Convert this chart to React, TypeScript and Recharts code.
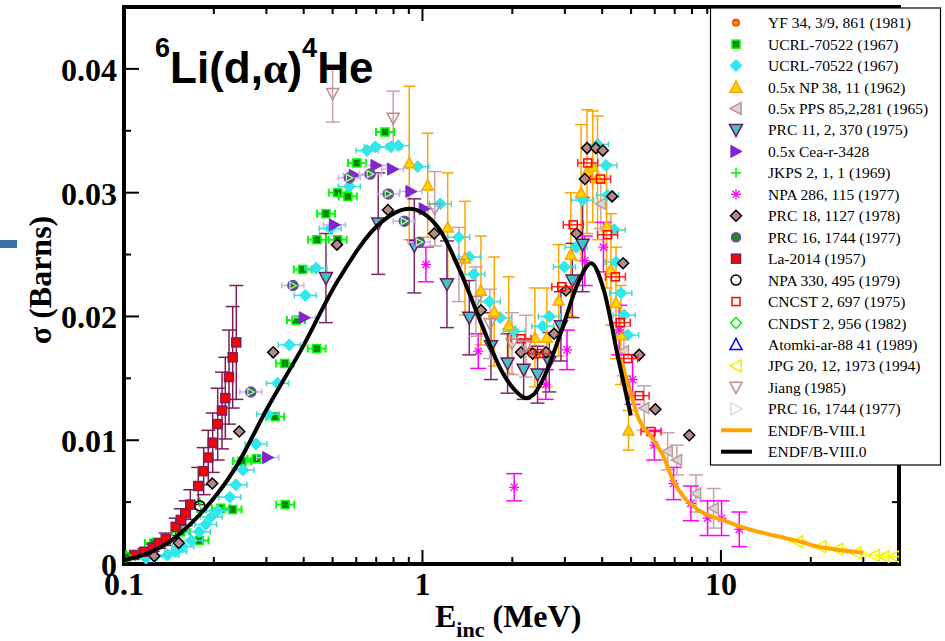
import React from 'react';
import { ScatterChart, Scatter, XAxis, YAxis, ErrorBar } from 'recharts';

const SERIF = '"Liberation Serif", "Times New Roman", serif';
const SANS = '"Liberation Sans", Arial, sans-serif';

// ---------- ticks ----------
const xTicks = [0.1, 0.2, 0.3, 0.4, 0.5, 0.6, 0.7, 0.8, 0.9, 1, 2, 3, 4, 5, 6, 7, 8, 9, 10, 20, 30];
const xMajorLabels: Record<string, string> = { '0.1': '0.1', '1': '1', '10': '10' };
const yTicks = [0, 0.005, 0.01, 0.015, 0.02, 0.025, 0.03, 0.035, 0.04];
const yMajorLabels: Record<string, string> = { '0': '0', '0.01': '0.01', '0.02': '0.02', '0.03': '0.03', '0.04': '0.04' };

// ---------- data (E in MeV, sigma in barns, optional y error) ----------
const yf34 = [[2.30, 0.0172], [2.42, 0.0169]];
const ucrlSquares = [
  [0.1016, 0.00057], [0.126, 0.0017], [0.155, 0.0026], [0.179, 0.0019], [0.211, 0.0045], [0.231, 0.0044],
  [0.2485, 0.0083], [0.278, 0.0085], [0.321, 0.0119], [0.347, 0.0048], [0.346, 0.0162], [0.377, 0.0197],
  [0.442, 0.0174], [0.397, 0.0238], [0.443, 0.0262], [0.520, 0.0262], [0.475, 0.0283], [0.520, 0.0300],
  [0.562, 0.0297], [0.603, 0.0324], [0.749, 0.0349],
];
const ucrlDiamonds = [
  [0.1185, 0.00046], [0.1263, 0.00059], [0.140, 0.00073], [0.149, 0.00099], [0.1573, 0.0014], [0.168, 0.0019],
  [0.1787, 0.0026], [0.188, 0.0032], [0.196, 0.0038], [0.206, 0.0043], [0.2263, 0.0054], [0.237, 0.0064],
  [0.2505, 0.0076], [0.277, 0.0097], [0.303, 0.0121], [0.327, 0.0146], [0.358, 0.0177], [0.405, 0.0217],
  [0.440, 0.0239], [0.491, 0.0271], [0.569, 0.0305], [0.652, 0.0334], [0.695, 0.0337], [0.784, 0.0337],
  [0.830, 0.0338], [0.964, 0.0321], [1.148, 0.0291], [1.322, 0.0264], [1.435, 0.0248], [1.485, 0.0234],
  [1.674, 0.0212], [1.822, 0.0199], [2.03, 0.0188], [2.53, 0.0192], [2.66, 0.0200], [2.99, 0.0240],
  [3.27, 0.0256], [3.44, 0.0294], [3.86, 0.0339], [4.12, 0.0322], [4.17, 0.0298], [4.39, 0.0270],
  [4.45, 0.0244], [4.62, 0.0219], [4.74, 0.0201], [4.87, 0.0185],
];
const np38 = [
  [0.903, 0.0324, 0.0062], [1.041, 0.0306, 0.0042], [1.215, 0.0272, 0.0044], [1.388, 0.0247, 0.0046],
  [1.570, 0.0221, 0.0044], [1.74, 0.0204, 0.0044], [1.945, 0.0193, 0.0039], [2.38, 0.0183, 0.0040],
  [2.61, 0.0183, 0.0040], [2.86, 0.0213, 0.0045], [3.14, 0.0250, 0.0050], [3.40, 0.0300, 0.0055],
  [3.56, 0.0317, 0.0050], [3.72, 0.0321, 0.0045], [3.86, 0.0312, 0.0050], [4.14, 0.0273, 0.0050],
  [4.28, 0.0238, 0.0045], [4.45, 0.0211, 0.0045], [4.62, 0.0185, 0.0040], [4.90, 0.0108, 0.0016],
];
const pps = [
  [3.96, 0.0291, 0.0020], [4.73, 0.0172, 0.0020], [5.53, 0.0126, 0.0018], [6.63, 0.0091, 0.0015],
  [7.12, 0.0084, 0.0012], [8.25, 0.0057, 0.0015], [9.45, 0.0045, 0.0016],
];
const prc11 = [
  [0.475, 0.0231, 0.0036], [0.711, 0.0275, 0.0041], [0.939, 0.0257, 0.0038], [1.208, 0.0226, 0.0035],
  [1.435, 0.0199, 0.0030], [1.696, 0.0176, 0.0027], [1.928, 0.0162, 0.0024], [2.183, 0.0157, 0.0024],
  [2.43, 0.0153, 0.0023], [2.66, 0.0163, 0.0024], [2.91, 0.0192, 0.0028], [3.18, 0.0229, 0.0030],
  [3.44, 0.0258, 0.0038],
];
const cea = [
  [0.303, 0.0086], [0.402, 0.0199], [0.507, 0.0274], [0.591, 0.0314], [0.699, 0.0322], [0.795, 0.0319],
  [0.915, 0.0301], [1.014, 0.0287],
];
const jkps = [[0.181, 0.0042], [0.1794, 0.0050]];
const npa286 = [
  [1.027, 0.0242, 0.0014], [1.538, 0.0172, 0.0014], [2.03, 0.0062, 0.0011], [2.59, 0.0145, 0.0012],
  [3.05, 0.0173, 0.0016], [3.50, 0.0245, 0.0020], [4.04, 0.0256, 0.0020], [4.56, 0.0189, 0.0020],
  [5.06, 0.0149, 0.0020], [5.98, 0.0096, 0.0012], [6.94, 0.0065, 0.0013], [7.93, 0.0049, 0.0014],
  [9.02, 0.0037, 0.0014], [10.05, 0.0037, 0.0014], [11.52, 0.0028, 0.0014],
];
const prc18 = [
  [0.1263, 0.00065], [0.1525, 0.0017], [0.1976, 0.0065], [0.2433, 0.0107], [0.3162, 0.0171], [0.517, 0.0258],
  [0.766, 0.0286], [1.095, 0.0267], [1.570, 0.0205], [2.138, 0.0171], [2.34, 0.0170], [2.593, 0.0171],
  [2.76, 0.0186], [3.025, 0.0221], [3.28, 0.0267], [3.50, 0.0311], [3.56, 0.0336], [3.81, 0.0336],
  [4.02, 0.0334], [4.32, 0.0297], [4.70, 0.0243], [5.32, 0.0169], [6.03, 0.0125], [7.83, 0.0104],
];
const prc16circles = [
  [0.266, 0.0139], [0.368, 0.0225], [0.569, 0.0312], [0.668, 0.0315], [0.768, 0.0299], [0.869, 0.0277], [0.976, 0.0260],
];
const la2014 = [
  [0.1083, 0.00073, 0.0002], [0.117, 0.00099, 0.00025], [0.1248, 0.00132, 0.0003], [0.1313, 0.00167, 0.0004],
  [0.138, 0.0020, 0.0005], [0.149, 0.0030, 0.0007], [0.155, 0.00356, 0.0009], [0.161, 0.0041, 0.0010],
  [0.1668, 0.0048, 0.0012], [0.1774, 0.0063, 0.0015], [0.1849, 0.0075, 0.0019], [0.1916, 0.0086, 0.0022],
  [0.1982, 0.0098, 0.0024], [0.206, 0.0113, 0.0029], [0.2130, 0.0124, 0.0031], [0.2185, 0.0134, 0.0033],
  [0.2248, 0.0151, 0.0038], [0.2313, 0.0167, 0.0041], [0.2378, 0.0179, 0.0046],
];
const npa330 = [[0.1794, 0.0047]];
const cncst = [
  [2.138, 0.0182], [2.46, 0.0170], [2.93, 0.0224], [3.20, 0.0274], [3.58, 0.0324], [3.95, 0.0311],
  [4.17, 0.0266], [4.43, 0.0232], [4.60, 0.0195], [4.87, 0.0166], [5.32, 0.0136], [5.83, 0.0107],
];
const cndst = [[0.1016, 0.0006]];
const atomki: number[][] = [];
const jpg = [[18.07, 0.0018], [21.6, 0.0014], [24.6, 0.0012], [28.3, 0.0009], [32.6, 0.0007], [35.2, 0.0006], [38.1, 0.0006]];
const jiang = [
  [0.500, 0.0380, 0.0023], [0.798, 0.0360, 0.0022], [1.099, 0.0287, 0.0030], [1.325, 0.0242, 0.0030],
  [1.511, 0.0212, 0.0028], [1.683, 0.0194, 0.0028], [1.995, 0.0178, 0.0025], [2.222, 0.0176, 0.0025],
];
const prc16triangles = prc16circles;
const endf81 = [
  [4.62, 0.0165], [4.88, 0.0146], [5.27, 0.0119], [5.96, 0.0100], [6.44, 0.0086], [6.90, 0.0068], [7.52, 0.0054],
  [8.77, 0.0041], [10.0, 0.0036], [11.67, 0.0030], [15.05, 0.0023], [18.53, 0.0018], [21.1, 0.0014],
  [23.9, 0.0012], [29.9, 0.0009],
];
const endf80 = [
  [0.1, 0.0003], [0.123, 0.00097], [0.140, 0.0017], [0.181, 0.0041], [0.234, 0.0076], [0.304, 0.0127],
  [0.392, 0.0173], [0.521, 0.0229], [0.726, 0.0276], [0.901, 0.0287], [1.127, 0.0272], [1.346, 0.0235],
  [1.570, 0.0195], [1.832, 0.0157], [2.03, 0.0141], [2.222, 0.0134], [2.36, 0.0137], [2.495, 0.0146],
  [2.91, 0.0187], [3.32, 0.0227], [3.67, 0.0243], [4.055, 0.0221], [4.52, 0.0167], [4.99, 0.0120],
];

const toPts = (arr: number[][]) => arr.map((d) => ({ x: d[0], y: d[1], ey: d[2] }));

// ---------- markers ----------
function xbar(cx: number, cy: number, half: number, color: string, sw = 1.5, cap = 3) {
  return (
    <g>
      <line x1={cx - half} x2={cx + half} y1={cy} y2={cy} stroke={color} strokeWidth={sw} />
      <line x1={cx - half} x2={cx - half} y1={cy - cap} y2={cy + cap} stroke={color} strokeWidth={sw} />
      <line x1={cx + half} x2={cx + half} y1={cy - cap} y2={cy + cap} stroke={color} strokeWidth={sw} />
    </g>
  );
}
function triPts(cx: number, cy: number, dir: string, s: number) {
  const k = 0.85;
  if (dir === 'up') return `${cx},${cy - s} ${cx + s},${cy + s * k} ${cx - s},${cy + s * k}`;
  if (dir === 'down') return `${cx - s},${cy - s * k} ${cx + s},${cy - s * k} ${cx},${cy + s}`;
  if (dir === 'left') return `${cx - s},${cy} ${cx + s * k},${cy - s} ${cx + s * k},${cy + s}`;
  return `${cx + s},${cy} ${cx - s * k},${cy - s} ${cx - s * k},${cy + s}`;
}
function diaPts(cx: number, cy: number, s: number) {
  return `${cx},${cy - s} ${cx + s},${cy} ${cx},${cy + s} ${cx - s},${cy}`;
}

function drawMarker(kind: string, cx: number, cy: number, legend = false) {
  if (cx == null || cy == null || isNaN(cx) || isNaN(cy)) return <g />;
  switch (kind) {
    case 'yf':
      return <circle cx={cx} cy={cy} r={3.2} fill="#ff9a00" stroke="#ff2000" strokeWidth={1.3} />;
    case 'ucrlSq':
      return (
        <g>
          {!legend && xbar(cx, cy, 9, '#00ff00', 2, 4)}
          <rect x={cx - 4} y={cy - 4} width={8} height={8} fill="#008a00" stroke="#00ff00" strokeWidth={1.5} />
        </g>
      );
    case 'ucrlDi':
      return (
        <g>
          {!legend && xbar(cx, cy, 11, '#48d8d0', 1.5, 3)}
          <polygon points={diaPts(cx, cy, 6)} fill="#2ee8ee" stroke="#2ee8ee" strokeWidth={1} />
        </g>
      );
    case 'np':
      return <polygon points={triPts(cx, cy, 'up', legend ? 6 : 5.5)} fill="#ffd700" stroke="#ffa500" strokeWidth={1.5} />;
    case 'pps':
      return <polygon points={triPts(cx, cy, 'left', legend ? 6 : 5.5)} fill="#d8d8d8" stroke="#c09898" strokeWidth={1.5} />;
    case 'prc11':
      return <polygon points={triPts(cx, cy, 'down', 6.5)} fill="#40c4c4" stroke="#6a1b5a" strokeWidth={1.5} />;
    case 'cea':
      return (
        <g>
          {!legend && xbar(cx, cy, 11, '#c8b4e6', 1.5, 3)}
          <polygon points={triPts(cx, cy, 'right', 6)} fill="#8224d0" stroke="#8224d0" strokeWidth={1} />
        </g>
      );
    case 'jkps':
      return (
        <g stroke="#00ee00" strokeWidth={1.5}>
          <line x1={cx - 5} x2={cx + 5} y1={cy} y2={cy} />
          <line x1={cx} x2={cx} y1={cy - 5} y2={cy + 5} />
        </g>
      );
    case 'npa286':
      return (
        <g stroke="#ff00ff" strokeWidth={1.3}>
          <line x1={cx - 5} x2={cx + 5} y1={cy} y2={cy} />
          <line x1={cx} x2={cx} y1={cy - 5} y2={cy + 5} />
          <line x1={cx - 3.6} x2={cx + 3.6} y1={cy - 3.6} y2={cy + 3.6} />
          <line x1={cx - 3.6} x2={cx + 3.6} y1={cy + 3.6} y2={cy - 3.6} />
        </g>
      );
    case 'prc18':
      return <polygon points={diaPts(cx, cy, 5.5)} fill="#b48a88" stroke="#000" strokeWidth={1.5} />;
    case 'prc16c':
      return (
        <g>
          {!legend && xbar(cx, cy, 11, '#c8b4e6', 1.5, 3)}
          <circle cx={cx} cy={cy} r={legend ? 4.5 : 5} fill="#1a8a1a" stroke="#7a3ac8" strokeWidth={1.5} />
        </g>
      );
    case 'la':
      return <rect x={cx - 4.5} y={cy - 4.5} width={9} height={9} fill="#ff0000" stroke="#7b1f5a" strokeWidth={1.5} />;
    case 'npa330':
      return <circle cx={cx} cy={cy} r={5} fill="none" stroke="#000" strokeWidth={1.5} />;
    case 'cncst':
      return (
        <g>
          {!legend && xbar(cx, cy, 10, '#ff2020', 1.5, 4)}
          <rect x={cx - 4} y={cy - 4} width={8} height={8} fill="none" stroke="#ff0000" strokeWidth={1.5} />
        </g>
      );
    case 'cndst':
      return <polygon points={diaPts(cx, cy, 5.5)} fill="none" stroke="#00ee00" strokeWidth={1.5} />;
    case 'atomki':
      return <polygon points={triPts(cx, cy, 'up', 6)} fill="none" stroke="#0000ff" strokeWidth={1.5} />;
    case 'jpg':
      return (
        <g>
          {!legend && xbar(cx, cy, 8, '#ffff00', 1.5, 3)}
          <polygon points={triPts(cx, cy, 'left', 6)} fill="none" stroke="#f0f000" strokeWidth={1.5} />
        </g>
      );
    case 'jiang':
      return <polygon points={triPts(cx, cy, 'down', 6)} fill="none" stroke="#bc8f8f" strokeWidth={1.5} />;
    case 'prc16t':
      return <polygon points={triPts(cx, cy, 'right', legend ? 6 : 3.5)} fill="none" stroke="#d8d8d8" strokeWidth={1.3} />;
    default:
      return <g />;
  }
}

type SeriesCfg = { name: string; kind: string; data: number[][]; err?: string; cap?: number; line?: string };
const series: SeriesCfg[] = [
  { name: 'YF 34, 3/9, 861 (1981)', kind: 'yf', data: yf34 },
  { name: 'UCRL-70522 (1967)', kind: 'ucrlSq', data: ucrlSquares },
  { name: 'UCRL-70522 (1967)', kind: 'ucrlDi', data: ucrlDiamonds },
  { name: '0.5x NP 38, 11 (1962)', kind: 'np', data: np38, err: '#ffa500', cap: 6 },
  { name: '0.5x PPS 85,2,281 (1965)', kind: 'pps', data: pps, err: '#c9a3a3', cap: 7 },
  { name: 'PRC 11, 2, 370 (1975)', kind: 'prc11', data: prc11, err: '#7b2a68', cap: 7 },
  { name: '0.5x Cea-r-3428', kind: 'cea', data: cea },
  { name: 'JKPS 2, 1, 1 (1969)', kind: 'jkps', data: jkps },
  { name: 'NPA 286, 115 (1977)', kind: 'npa286', data: npa286, err: '#ff00ff', cap: 8 },
  { name: 'PRC 18, 1127 (1978)', kind: 'prc18', data: prc18 },
  { name: 'PRC 16, 1744 (1977)', kind: 'prc16c', data: prc16circles },
  { name: 'La-2014 (1957)', kind: 'la', data: la2014, err: '#7b1f5a', cap: 7 },
  { name: 'NPA 330, 495 (1979)', kind: 'npa330', data: npa330 },
  { name: 'CNCST 2, 697 (1975)', kind: 'cncst', data: cncst },
  { name: 'CNDST 2, 956 (1982)', kind: 'cndst', data: cndst },
  { name: 'Atomki-ar-88 41 (1989)', kind: 'atomki', data: atomki },
  { name: 'JPG 20, 12, 1973 (1994)', kind: 'jpg', data: jpg },
  { name: 'Jiang (1985)', kind: 'jiang', data: jiang, err: '#c9a3a3', cap: 7 },
  { name: 'PRC 16, 1744 (1977)', kind: 'prc16t', data: prc16triangles },
  { name: 'ENDF/B-VIII.1', kind: 'line', data: endf81, line: '#ffa500' },
  { name: 'ENDF/B-VIII.0', kind: 'line', data: endf80, line: '#000000' },
];

// ---------- ticks ----------
const isMajorX = (v: number) => xMajorLabels[String(v)] !== undefined;
const XTickBottom = (p: any) => {
  const v = p.payload.value;
  const major = isMajorX(v);
  const x = p.payload.coordinate ?? p.x;
  return (
    <g>
      <line x1={x} x2={x} y1={564} y2={564 - (major ? 14 : 7)} stroke="#000" strokeWidth={2} />
      {major && (
        <text x={x} y={595} textAnchor="middle" fontFamily={SERIF} fontWeight="bold" fontSize={32} fill="#000">
          {xMajorLabels[String(v)]}
        </text>
      )}
    </g>
  );
};
const XTickTop = (p: any) => {
  const major = isMajorX(p.payload.value);
  const x = p.payload.coordinate ?? p.x;
  return <line x1={x} x2={x} y1={7} y2={7 + (major ? 14 : 7)} stroke="#000" strokeWidth={2} />;
};
const yKey = (v: number) => String(Math.round(v * 1000) / 1000);
const YTickLeft = (p: any) => {
  const v = p.payload.value;
  const lab = yMajorLabels[yKey(v)];
  const major = lab !== undefined;
  const y = p.payload.coordinate ?? p.y;
  return (
    <g>
      <line x1={124} x2={124 + (major ? 15 : 7)} y1={y} y2={y} stroke="#000" strokeWidth={2} />
      {major && (
        <text x={117} y={y + 12} textAnchor="end" fontFamily={SERIF} fontWeight="bold" fontSize={32} fill="#000">
          {lab}
        </text>
      )}
    </g>
  );
};
const YTickRight = (p: any) => {
  const major = yMajorLabels[yKey(p.payload.value)] !== undefined;
  const y = p.payload.coordinate ?? p.y;
  return <line x1={899} x2={899 - (major ? 15 : 7)} y1={y} y2={y} stroke="#000" strokeWidth={2} />;
};

const axisLine = { stroke: '#000', strokeWidth: 4, strokeLinecap: 'square' as const };

export default function App() {
  const legendTop = 22.7;
  const legendStep = 21.45;
  return (
    <div style={{ position: 'relative', width: 945, height: 641, background: '#fff', overflow: 'hidden' }}>
      <style>{`body{margin:0;background:#fff;}`}</style>
      <ScatterChart width={945} height={641} margin={{ top: 6, right: 45, bottom: 76, left: 123 }}>
        <XAxis
          xAxisId="bottom"
          dataKey="x"
          type="number"
          scale="log"
          domain={[0.1, 39.5]}
          allowDataOverflow
          ticks={xTicks}
          interval={0}
          height={1}
          tickSize={0}
          tickMargin={0}
          tickLine={false}
          axisLine={axisLine}
          tick={(p: any) => <XTickBottom {...p} />}
        />
        <XAxis
          xAxisId="top"
          orientation="top"
          dataKey="x"
          type="number"
          scale="log"
          domain={[0.1, 39.5]}
          allowDataOverflow
          ticks={xTicks}
          interval={0}
          height={1}
          tickSize={0}
          tickMargin={0}
          tickLine={false}
          axisLine={axisLine}
          tick={(p: any) => <XTickTop {...p} />}
        />
        <YAxis
          yAxisId="left"
          dataKey="y"
          type="number"
          domain={[0, 0.045]}
          allowDataOverflow
          ticks={yTicks}
          interval={0}
          width={1}
          tickSize={0}
          tickMargin={0}
          tickLine={false}
          axisLine={axisLine}
          tick={(p: any) => <YTickLeft {...p} />}
        />
        <YAxis
          yAxisId="right"
          orientation="right"
          dataKey="y"
          type="number"
          domain={[0, 0.045]}
          allowDataOverflow
          ticks={yTicks}
          interval={0}
          width={1}
          tickSize={0}
          tickMargin={0}
          tickLine={false}
          axisLine={axisLine}
          tick={(p: any) => <YTickRight {...p} />}
        />
        {series.map((s, i) => {
          const top = i === 0;
          const xId = top ? 'top' : 'bottom';
          const yId = top ? 'right' : 'left';
          if (s.kind === 'line') {
            return (
              <Scatter
                key={i}
                name={s.name}
                xAxisId={xId}
                yAxisId={yId}
                data={toPts(s.data)}
                line={{ stroke: s.line, strokeWidth: 4 }}
                lineJointType="monotoneX"
                shape={() => <g />}
                isAnimationActive={false}
              />
            );
          }
          return (
            <Scatter
              key={i}
              name={s.name}
              xAxisId={xId}
              yAxisId={yId}
              data={toPts(s.data)}
              shape={(p: any) => drawMarker(s.kind, p.cx, p.cy)}
              isAnimationActive={false}
            >
              {s.err && (
                <ErrorBar dataKey="ey" direction="y" width={s.cap} stroke={s.err} strokeWidth={1.5} />
              )}
            </Scatter>
          );
        })}
      </ScatterChart>
      <svg width={945} height={641} style={{ position: 'absolute', left: 0, top: 0, pointerEvents: 'none' }}>
        <rect x={0} y={240} width={17} height={8} fill="#3e6ca6" />
        <text x={155} y={83} fontFamily={SANS} fontWeight="bold" fontSize={44} fill="#000">
          <tspan fontSize={27} dy={-26}>6</tspan>
          <tspan dy={26}>Li(d,</tspan>
          <tspan fontFamily={SERIF} fontWeight="bold">α</tspan>
          <tspan>)</tspan>
          <tspan fontSize={27} dy={-26}>4</tspan>
          <tspan dy={26}>He</tspan>
        </text>
        <text
          x={40}
          y={280}
          transform="rotate(-90 40 280)"
          textAnchor="middle"
          dominantBaseline="central"
          fontFamily={SERIF}
          fontWeight="bold"
          fontSize={32}
          fill="#000"
        >
          σ (Barns)
        </text>
        <text x={435} y={627} fontFamily={SERIF} fontWeight="bold" fontSize={32} fill="#000">
          E<tspan fontSize={22} dy={10}>inc</tspan>
          <tspan dy={-10}> (MeV)</tspan>
        </text>
        <rect x={710.5} y={8} width={230} height={457} fill="#fff" stroke="#000" strokeWidth={1.2} />
        {series.map((s, i) => {
          const cy = legendTop + i * legendStep;
          return (
            <g key={i}>
              {s.kind === 'line' ? (
                <line x1={721} x2={752} y1={cy} y2={cy} stroke={s.line} strokeWidth={4} />
              ) : (
                drawMarker(s.kind, 736, cy, true)
              )}
              <text x={768} y={cy + 5.5} fontFamily={SERIF} fontSize={15.5} fill="#000">
                {s.name}
              </text>
            </g>
          );
        })}
      </svg>
    </div>
  );
}
